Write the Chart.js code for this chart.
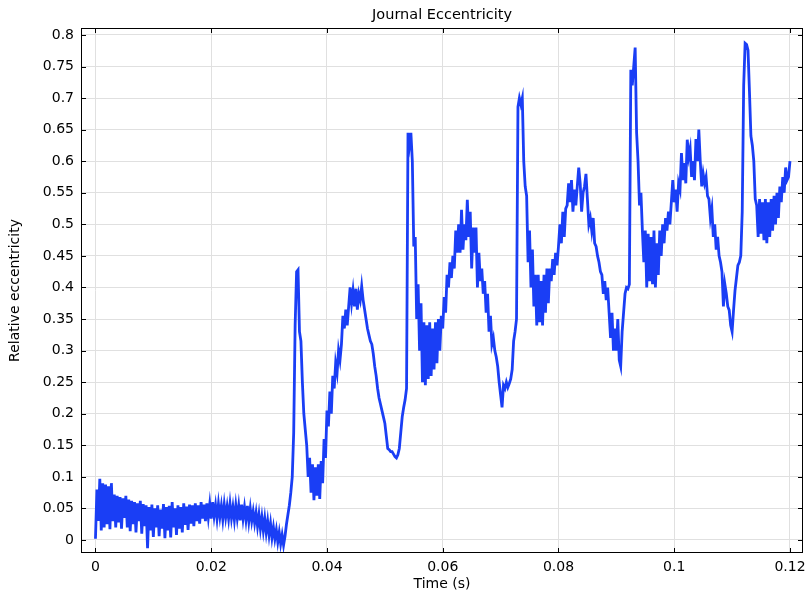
<!DOCTYPE html>
<html>
<head>
<meta charset="utf-8">
<script src="https://cdn.jsdelivr.net/npm/chart.js@4"></script>
<style>
  html, body { margin: 0; padding: 0; background: #fff; }
  #wrap { width: 807px; height: 594px; }
</style>
</head>
<body>
<div id="wrap"><canvas id="eccChart"></canvas></div>
<script>
// sampled every 0.25 ms from t = 0 to t = 0.12 s (one row = 5 ms)
const sampleStart = 0;
const sampleStep = 0.00025;
const eccentricity = [
    0.002, 0.080, 0.030, 0.097, 0.015, 0.090, 0.020, 0.088, 0.025, 0.085, 0.017, 0.090, 0.030, 0.072, 0.020, 0.070, 0.028, 0.068, 0.018, 0.066,
    0.035, 0.070, 0.020, 0.064, 0.014, 0.062, 0.025, 0.060, 0.012, 0.058, 0.030, 0.062, 0.010, 0.057, 0.022, 0.055, -0.013, 0.052, 0.015, 0.056,
    0.005, 0.050, 0.020, 0.055, 0.006, 0.048, 0.018, 0.057, 0.003, 0.052, 0.015, 0.054, 0.004, 0.060, 0.020, 0.050, 0.008, 0.055, 0.018, 0.052,
    0.012, 0.058, 0.024, 0.053, 0.016, 0.056, 0.026, 0.055, 0.022, 0.058, 0.030, 0.055, 0.026, 0.060, 0.034, 0.056, 0.030, 0.058, 0.036, 0.057,
    0.034, 0.060, 0.038, 0.055, 0.034, 0.057, 0.037, 0.054, 0.033, 0.056, 0.036, 0.053, 0.034, 0.057, 0.035, 0.052, 0.032, 0.055, 0.035, 0.054,
    0.031, 0.056, 0.034, 0.052, 0.032, 0.054, 0.030, 0.050, 0.030, 0.045, 0.027, 0.043, 0.022, 0.040, 0.018, 0.036, 0.015, 0.034, 0.012, 0.030,
    0.008, 0.026, 0.004, 0.020, 0.002, 0.016, -0.003, 0.012, -0.006, 0.008, -0.008, 0.006, 0.025, 0.040, 0.055, 0.075, 0.100, 0.170, 0.340, 0.425,
    0.428, 0.330, 0.315, 0.250, 0.200, 0.175, 0.150, 0.100, 0.130, 0.075, 0.120, 0.063, 0.115, 0.070, 0.120, 0.065, 0.125, 0.090, 0.160, 0.130,
    0.205, 0.180, 0.235, 0.200, 0.260, 0.240, 0.280, 0.265, 0.300, 0.285, 0.310, 0.355, 0.335, 0.365, 0.340, 0.370, 0.400, 0.375, 0.395, 0.370,
    0.398, 0.365, 0.390, 0.380, 0.402, 0.380, 0.365, 0.350, 0.335, 0.325, 0.315, 0.310, 0.295, 0.275, 0.260, 0.240, 0.225, 0.215, 0.205, 0.195,
    0.185, 0.165, 0.145, 0.143, 0.140, 0.140, 0.136, 0.132, 0.130, 0.135, 0.145, 0.170, 0.195, 0.210, 0.222, 0.240, 0.645, 0.625, 0.645, 0.600,
    0.465, 0.480, 0.350, 0.405, 0.300, 0.375, 0.250, 0.345, 0.245, 0.340, 0.255, 0.345, 0.260, 0.335, 0.270, 0.345, 0.280, 0.350, 0.300, 0.355,
    0.335, 0.385, 0.360, 0.420, 0.400, 0.440, 0.415, 0.450, 0.430, 0.490, 0.455, 0.500, 0.455, 0.523, 0.460, 0.500, 0.475, 0.539, 0.480, 0.520,
    0.430, 0.495, 0.455, 0.495, 0.400, 0.455, 0.410, 0.430, 0.390, 0.410, 0.360, 0.390, 0.330, 0.355, 0.310, 0.320, 0.300, 0.290, 0.275, 0.250,
    0.230, 0.210, 0.245, 0.240, 0.250, 0.242, 0.248, 0.255, 0.270, 0.315, 0.330, 0.350, 0.686, 0.700, 0.690, 0.700, 0.600, 0.560, 0.545, 0.440,
    0.490, 0.400, 0.460, 0.370, 0.420, 0.340, 0.420, 0.345, 0.410, 0.340, 0.420, 0.360, 0.430, 0.375, 0.430, 0.410, 0.445, 0.420, 0.455, 0.435,
    0.465, 0.500, 0.470, 0.520, 0.480, 0.525, 0.530, 0.565, 0.535, 0.570, 0.520, 0.555, 0.530, 0.560, 0.590, 0.565, 0.520, 0.550, 0.560, 0.580,
    0.540, 0.500, 0.510, 0.490, 0.510, 0.470, 0.465, 0.450, 0.440, 0.425, 0.420, 0.390, 0.410, 0.380, 0.400, 0.360, 0.320, 0.360, 0.300, 0.335,
    0.300, 0.350, 0.285, 0.275, 0.330, 0.360, 0.390, 0.400, 0.398, 0.405, 0.745, 0.720, 0.750, 0.780, 0.645, 0.600, 0.530, 0.550, 0.490, 0.440,
    0.490, 0.400, 0.485, 0.410, 0.480, 0.405, 0.490, 0.400, 0.470, 0.420, 0.490, 0.450, 0.500, 0.470, 0.510, 0.490, 0.520, 0.500, 0.535, 0.570,
    0.535, 0.555, 0.520, 0.565, 0.555, 0.613, 0.570, 0.597, 0.565, 0.634, 0.607, 0.620, 0.575, 0.600, 0.570, 0.635, 0.600, 0.650, 0.600, 0.560,
    0.580, 0.565, 0.575, 0.545, 0.540, 0.510, 0.525, 0.480, 0.500, 0.460, 0.480, 0.450, 0.440, 0.425, 0.370, 0.405, 0.390, 0.370, 0.364, 0.340,
    0.330, 0.364, 0.395, 0.415, 0.435, 0.440, 0.450, 0.520, 0.720, 0.787, 0.785, 0.776, 0.710, 0.640, 0.625, 0.600, 0.540, 0.530, 0.480, 0.540,
    0.485, 0.535, 0.475, 0.540, 0.470, 0.535, 0.480, 0.540, 0.490, 0.545, 0.500, 0.550, 0.510, 0.560, 0.535, 0.575, 0.550, 0.590, 0.570, 0.575,
    0.600
];
const xTicks = [0, 0.02, 0.04, 0.06, 0.08, 0.1, 0.12];
const yTicks = [0, 0.05, 0.1, 0.15, 0.2, 0.25, 0.3, 0.35, 0.4, 0.45, 0.5, 0.55, 0.6, 0.65, 0.7, 0.75, 0.8];
const chartTitle = 'Journal Eccentricity';

const points = eccentricity.map((v, i) => ({ x: sampleStart + i * sampleStep, y: v }));

const fontFamily = '"DejaVu Sans", sans-serif';

// title over the plot area, black frame, inward tick marks on all four sides
const framePlugin = {
    id: 'frame',
    afterDatasetsDraw(chart) {
        const { ctx, chartArea: a, scales } = chart;
        const len = 5;
        ctx.save();
        ctx.strokeStyle = '#000';
        ctx.lineWidth = 1;
        ctx.strokeRect(a.left + 0.5, a.top + 0.5, a.right - a.left - 1, a.bottom - a.top - 1);
        ctx.beginPath();
        xTicks.forEach(t => {
            const px = Math.round(scales.x.getPixelForValue(t)) + 0.5;
            ctx.moveTo(px, a.bottom); ctx.lineTo(px, a.bottom - len);
            ctx.moveTo(px, a.top); ctx.lineTo(px, a.top + len);
        });
        yTicks.forEach(t => {
            const py = Math.round(scales.y.getPixelForValue(t)) + 0.5;
            ctx.moveTo(a.left, py); ctx.lineTo(a.left + len, py);
            ctx.moveTo(a.right, py); ctx.lineTo(a.right - len, py);
        });
        ctx.stroke();

        ctx.fillStyle = '#000';
        ctx.font = '14.5px ' + fontFamily;
        ctx.textAlign = 'center';
        ctx.textBaseline = 'middle';
        ctx.fillText(chartTitle, (a.left + a.right) / 2, 15);
        ctx.restore();
    }
};

new Chart(document.getElementById('eccChart').getContext('2d'), {
    type: 'line',
    data: {
        datasets: [{
            data: points,
            borderColor: '#1a3ef5',
            borderWidth: 2.8,
            pointRadius: 0,
            tension: 0,
            fill: false
        }]
    },
    options: {
        responsive: true,
        maintainAspectRatio: false,
        animation: false,
        layout: { padding: { top: 28, right: 4, left: 0, bottom: 0 } },
        scales: {
            x: {
                type: 'linear',
                min: -0.0025,
                max: 0.12225,
                afterBuildTicks: s => { s.ticks = xTicks.map(v => ({ value: v })); },
                afterFit: s => { s.height = 41; s.paddingLeft = 0; s.paddingRight = 0; },
                ticks: {
                    color: '#000',
                    font: { family: fontFamily, size: 14 },
                    padding: 6,
                    maxRotation: 0,
                    callback: v => String(Number(v.toFixed(2)))
                },
                grid: { color: '#e0e0e0', drawTicks: false },
                border: { display: false },
                title: {
                    display: true,
                    text: 'Time (s)',
                    color: '#000',
                    font: { family: fontFamily, size: 14 },
                    padding: { top: 0, bottom: 1.5 }
                }
            },
            y: {
                type: 'linear',
                min: -0.0206,
                max: 0.811,
                afterBuildTicks: s => { s.ticks = yTicks.map(v => ({ value: v })); },
                afterFit: s => { s.width = 81; s.paddingTop = 0; s.paddingBottom = 0; },
                ticks: {
                    color: '#000',
                    font: { family: fontFamily, size: 14 },
                    padding: 7,
                    callback: v => String(Number(v.toFixed(2)))
                },
                grid: { color: '#e0e0e0', drawTicks: false },
                border: { display: false },
                title: {
                    display: true,
                    text: 'Relative eccentricity',
                    color: '#000',
                    font: { family: fontFamily, size: 14 },
                    padding: { top: 6.5, bottom: 0 }
                }
            }
        },
        plugins: {
            legend: { display: false },
            tooltip: { enabled: false },
            title: { display: false }
        }
    },
    plugins: [framePlugin]
});
</script>
</body>
</html>
